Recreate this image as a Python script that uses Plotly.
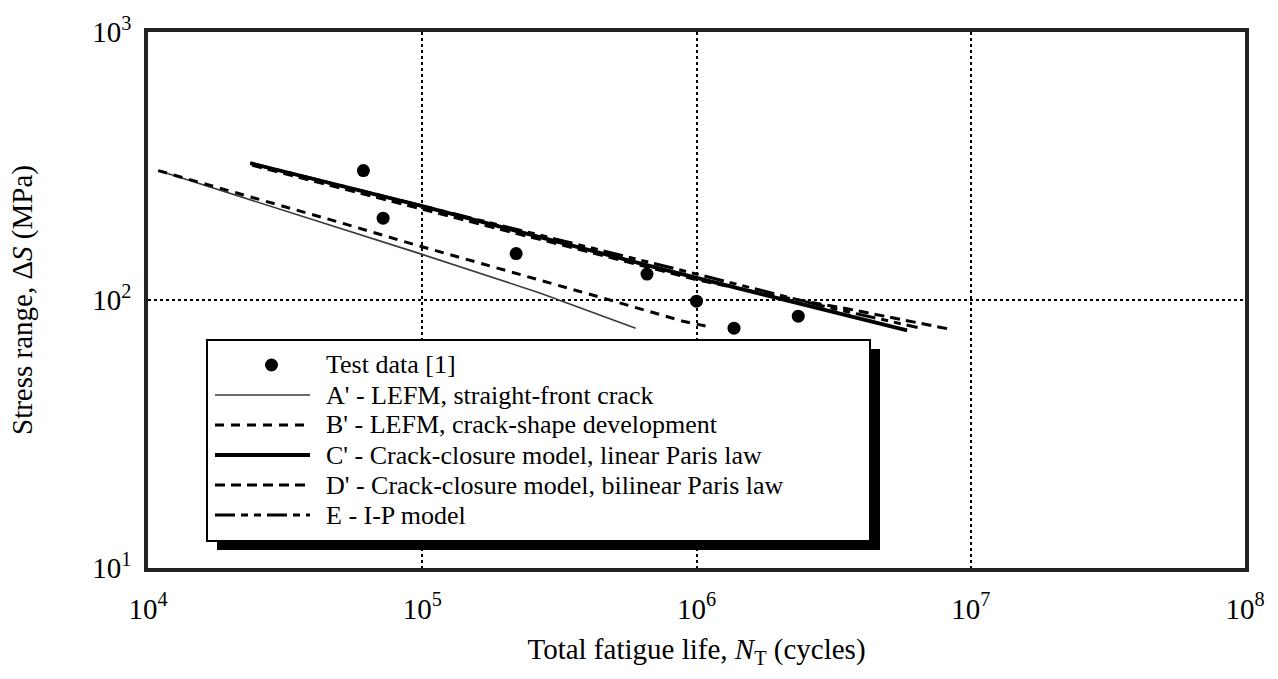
import plotly.graph_objects as go

# ---------------- data ----------------
test_N = [6.1e4, 7.2e4, 2.2e5, 6.6e5, 1.0e6, 1.37e6, 2.35e6]
test_S = [304, 202, 149, 125, 99, 78.5, 87]

a_N = [1.09e4, 1.0e5, 2.7e5, 6.0e5]
a_S = [304, 148, 106, 78.5]

b_N = [1.09e4, 2.6e4, 4.9e4, 8.8e4, 1.56e5, 2.8e5, 5.0e5, 8.85e5, 1.14e6]
b_S = [304, 236, 196, 164, 139, 117, 99, 83.5, 79]

c_N = [2.36e4, 1.0e5, 7.55e5, 5.86e6]
c_S = [324, 224, 130, 77]

d_N = [2.4e4, 1.0e5, 5.0e5, 1.0e6, 2.0e6, 3.5e6, 8.3e6]
d_S = [318, 218, 143, 119, 103, 93, 78]

e_N = [2.36e4, 1.0e5, 1.0e6, 3.0e6, 6.4e6]
e_S = [324, 225, 125, 94, 79]

x_ticks = [1e4, 1e5, 1e6, 1e7, 1e8]
x_ticktext = ["10<sup>4</sup>", "10<sup>5</sup>", "10<sup>6</sup>", "10<sup>7</sup>", "10<sup>8</sup>"]
y_ticks = [10, 100, 1000]
y_ticktext = ["10<sup>1</sup>", "10<sup>2</sup>", "10<sup>3</sup>"]

legend_labels = [
    "Test data [1]",
    "A' - LEFM, straight-front crack",
    "B' - LEFM, crack-shape development",
    "C' - Crack-closure model, linear Paris law",
    "D' - Crack-closure model, bilinear Paris law",
    "E - I-P model",
]

FONT = "Liberation Serif, Times New Roman, serif"

# line styles
A_STYLE = dict(color="#3a3a3a", width=1.6, dash="solid")
B_STYLE = dict(color="black", width=3, dash="9px,7px")
C_STYLE = dict(color="black", width=3.8, dash="solid")
D_STYLE = dict(color="black", width=3, dash="10px,6px")
E_STYLE = dict(color="black", width=3, dash="20px,6px,7px,6px,7px,6px")

fig = go.Figure()
fig.add_trace(go.Scatter(x=a_N, y=a_S, mode="lines", line=A_STYLE, name=legend_labels[1]))
fig.add_trace(go.Scatter(x=b_N, y=b_S, mode="lines", line=B_STYLE, name=legend_labels[2]))
fig.add_trace(go.Scatter(x=e_N, y=e_S, mode="lines", line=E_STYLE, name=legend_labels[5]))
fig.add_trace(go.Scatter(x=c_N, y=c_S, mode="lines", line=C_STYLE, name=legend_labels[3]))
fig.add_trace(go.Scatter(x=d_N, y=d_S, mode="lines", line=D_STYLE, name=legend_labels[4]))
fig.add_trace(go.Scatter(x=test_N, y=test_S, mode="markers",
                         marker=dict(color="black", size=13, symbol="circle"),
                         name=legend_labels[0]))

# ---------------- layout geometry ----------------
W, H = 1278, 679
L, R, T, B = 148, 1245, 32, 568


def px(xp):
    return (xp - L) / (R - L)


def py(yp):
    return (B - yp) / (B - T)


shapes = []
annotations = []

# legend box with drop shadow
bx0, bx1, by0, by1 = 207, 870, 340, 541
shapes.append(dict(type="rect", xref="paper", yref="paper", layer="above",
                   x0=px(bx0 + 10), x1=px(bx1 + 10), y0=py(by1 + 9), y1=py(by0 + 9),
                   fillcolor="black", line=dict(width=0)))
shapes.append(dict(type="rect", xref="paper", yref="paper", layer="above",
                   x0=px(bx0), x1=px(bx1), y0=py(by1), y1=py(by0),
                   fillcolor="white", line=dict(color="black", width=2)))

rows = [365, 395, 425, 455, 485, 515]
sx0, sx1, tx = 215, 310, 324
styles = [None, A_STYLE, B_STYLE, C_STYLE, D_STYLE, E_STYLE]
for i, (lab, yy) in enumerate(zip(legend_labels, rows)):
    if i == 0:
        shapes.append(dict(type="circle", xref="paper", yref="paper", layer="above",
                           x0=px(265), x1=px(278), y0=py(yy + 6.5), y1=py(yy - 6.5),
                           fillcolor="black", line=dict(color="black", width=0)))
    else:
        st = styles[i]
        shapes.append(dict(type="line", xref="paper", yref="paper", layer="above",
                           x0=px(sx0), x1=px(sx1), y0=py(yy), y1=py(yy),
                           line=dict(color=st["color"], width=st["width"], dash=st["dash"])))
    annotations.append(dict(xref="paper", yref="paper", x=px(tx), y=py(yy),
                            xanchor="left", yanchor="middle", showarrow=False,
                            text=lab, font=dict(family=FONT, size=26, color="black")))

fig.update_layout(
    width=W, height=H,
    margin=dict(l=L, r=W - R, t=T, b=H - B),
    paper_bgcolor="white", plot_bgcolor="white",
    showlegend=False,
    font=dict(family=FONT, size=28, color="black"),
    shapes=shapes,
    annotations=annotations,
)

fig.update_xaxes(
    type="log", range=[4, 8],
    tickvals=x_ticks, ticktext=x_ticktext,
    ticks="outside", ticklen=12, tickcolor="rgba(0,0,0,0)",
    tickfont=dict(family=FONT, size=29),
    showgrid=True, gridcolor="black", griddash="dot", gridwidth=2,
    showline=True, linecolor="#222", linewidth=3.5, mirror=True,
    zeroline=False, automargin=False,
    title=dict(text="Total fatigue life, <i>N</i><sub>T</sub> (cycles)",
               font=dict(family=FONT, size=29), standoff=16),
)
fig.update_yaxes(
    type="log", range=[1, 3],
    tickvals=y_ticks, ticktext=y_ticktext,
    ticks="outside", ticklen=7, tickcolor="rgba(0,0,0,0)",
    tickfont=dict(family=FONT, size=29),
    showgrid=True, gridcolor="black", griddash="dot", gridwidth=2,
    showline=True, linecolor="#222", linewidth=3.5, mirror=True,
    zeroline=False, automargin=False,
    title=dict(text="Stress range, Δ<i>S</i> (MPa)",
               font=dict(family=FONT, size=29), standoff=52),
)

fig.write_html("out.html", post_script="document.body.style.margin='0';",
               config={"displayModeBar": False})
